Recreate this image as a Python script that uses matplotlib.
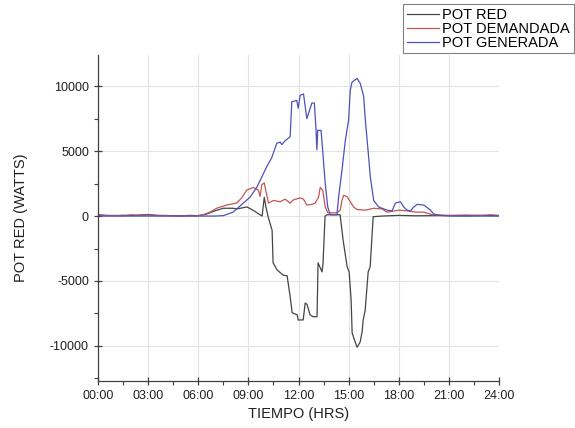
import numpy as np
import matplotlib
matplotlib.use("Agg")
import matplotlib.pyplot as plt
from matplotlib.ticker import MultipleLocator

plt.rcParams['font.family'] = ['Liberation Sans', 'DejaVu Sans']
plt.rcParams['axes.unicode_minus'] = False

# POT RED (grid power), hours vs watts
t_red = [0, 0.5, 1, 1.5, 2, 2.5, 3, 3.5, 4, 4.5, 5, 5.5, 6, 6.5, 7, 7.5, 8.08, 8.32,
         8.92, 9.28, 9.58, 9.82, 9.95, 10.05, 10.18, 10.42, 10.48, 10.72, 11.08, 11.32,
         11.38, 11.5, 11.62, 11.92, 11.98, 12.28, 12.4, 12.51, 12.69, 12.87, 13.11, 13.17,
         13.41, 13.47, 13.59, 13.71, 14.49, 14.67, 14.91, 15.03, 15.15, 15.21, 15.39,
         15.51, 15.69, 15.81, 15.87, 15.99, 16.17, 16.29, 16.41, 16.47, 17, 18, 19, 20,
         21, 22, 23, 24]
p_red = [100, 50, 30, 60, 40, 80, 120, 60, 40, 30, 20, 50, 30, 150, 400, 600, 600, 550,
         700, 450, 200, 0, 1450, 700, -50, -1100, -3600, -4150, -4550, -4600,
         -5150, -6200, -7450, -7600, -8000, -8000, -6700, -6800, -7600, -7750, -7750, -3600,
         -4300, -3600, 0, 100, 100, -1850, -3900, -4300, -6450, -9000, -9700,
         -10100, -9700, -8900, -8000, -7250, -4300, -3900, -1300, -50, 0, 50, 20, 30,
         40, 20, 50, 30]

# POT DEMANDADA
t_dem = [0, 0.5, 1, 1.5, 2, 2.5, 3, 3.5, 4, 5, 6, 6.3, 6.7, 7.1, 7.7, 8.3, 8.6, 8.9, 9.3,
         9.6, 9.7, 9.8, 9.95, 10.2, 10.5, 10.9, 11.2, 11.5, 11.7, 12.1, 12.3, 12.5, 12.8,
         13.0, 13.2, 13.3, 13.45, 13.6, 13.75, 14.3, 14.5, 14.6, 14.7, 14.9, 15.1, 15.3,
         15.5, 16.0, 16.5, 17.0, 17.3, 18.0, 18.5, 19.0, 19.5, 20.0, 21, 22, 23, 23.5, 24]
p_dem = [80, 30, 50, 20, 100, 40, 80, 30, 40, 20, 30, 100, 300, 600, 850, 1000, 1400, 2000,
         2200, 2000, 1500, 2400, 2550, 1000, 1200, 1100, 1300, 1000, 1250, 1400, 1300, 850,
         900, 1000, 1450, 2200, 2000, 700, 250, 250, 450, 1200, 1600, 1500, 1100, 700,
         500, 450, 600, 550, 300, 450, 400, 300, 300, 100, 50, 80, 50, 100, 50]

# POT GENERADA
t_gen = [0, 1, 2, 3, 4, 5, 6, 7, 7.5, 8.08, 8.7, 9.1, 9.5, 9.8, 10.1, 10.4, 10.7, 10.9,
         11.0, 11.2, 11.5, 11.6, 11.9, 11.98, 12.1, 12.3, 12.5, 12.8, 12.95, 13.05, 13.1,
         13.15, 13.35, 13.45, 13.6, 13.75, 13.9, 14.3, 14.4, 14.6, 14.8, 15.0, 15.1, 15.2,
         15.5, 15.7, 15.9, 16.0, 16.2, 16.3, 16.5, 16.8, 17.3, 17.6, 17.8, 18.1, 18.3,
         18.5, 18.7, 18.9, 19.1, 19.5, 19.9, 20.1, 20.5, 21, 22, 23, 24]
p_gen = [0, 0, 0, 0, 0, 0, 0, 0, 30, 300, 1000, 1450, 2200, 3000, 3800, 4500, 5600, 5700,
         5500, 5800, 6100, 8800, 8900, 8300, 9300, 9400, 7500, 8700, 8700, 6600, 5100,
         6600, 6600, 5000, 2500, 700, 100, 100, 1450, 3500, 5800, 7400, 9700, 10300,
         10600, 10200, 9200, 7400, 4500, 3000, 1200, 700, 450, 400, 1000, 1100, 700,
         450, 400, 700, 900, 850, 450, 150, 50, 0, 0, 0, 0]

hour_ticks = [0, 3, 6, 9, 12, 15, 18, 21, 24]
hour_labels = ['00:00', '03:00', '06:00', '09:00', '12:00', '15:00', '18:00', '21:00', '24:00']

fig = plt.figure(figsize=(5.75, 4.28), dpi=100)
ax = fig.add_axes([98 / 575, 1 - 381 / 428, 401 / 575, 326 / 428])

ax.plot(t_red, p_red, color='#454545', lw=0.9, label='POT RED')
ax.plot(t_dem, p_dem, color='#c25555', lw=0.9, label='POT DEMANDADA')
ax.plot(t_gen, p_gen, color='#5050bb', lw=0.9, label='POT GENERADA')

ax.set_xlim(0, 24)
ax.set_ylim(-12700, 12400)
ax.set_xticks(hour_ticks)
ax.set_xticklabels(hour_labels)
ax.xaxis.set_minor_locator(MultipleLocator(1.5))
ax.yaxis.set_major_locator(MultipleLocator(5000))
ax.yaxis.set_minor_locator(MultipleLocator(2500))
ax.grid(True, which='major', color='#e3e3e3', lw=0.8)
ax.set_axisbelow(True)

for s in ['top', 'right']:
    ax.spines[s].set_visible(False)
for s in ['left', 'bottom']:
    ax.spines[s].set_color('#404040')
    ax.spines[s].set_linewidth(0.9)

ax.tick_params(which='major', direction='inout', length=6, width=0.9, color='#404040',
               labelsize=9, labelcolor='#202020')
ax.tick_params(which='minor', direction='out', length=3, width=0.8, color='#404040')

ax.set_xlabel('TIEMPO (HRS)', fontsize=10.5, color='#202020')
ax.set_ylabel('POT RED (WATTS)', fontsize=10.5, color='#202020')
ax.xaxis.set_label_coords(0.5, -0.08)
ax.yaxis.set_label_coords(-0.175, 0.5)

leg = fig.legend(loc='upper left', bbox_to_anchor=(403 / 575, 1 - 4 / 428), fontsize=10.5,
                 frameon=True, fancybox=False, edgecolor='#808080', framealpha=1,
                 handlelength=2.2, handletextpad=0.25, labelspacing=0.0,
                 borderpad=0.25, borderaxespad=0)
leg.get_frame().set_linewidth(0.8)

fig.savefig('out.png', dpi=100)
